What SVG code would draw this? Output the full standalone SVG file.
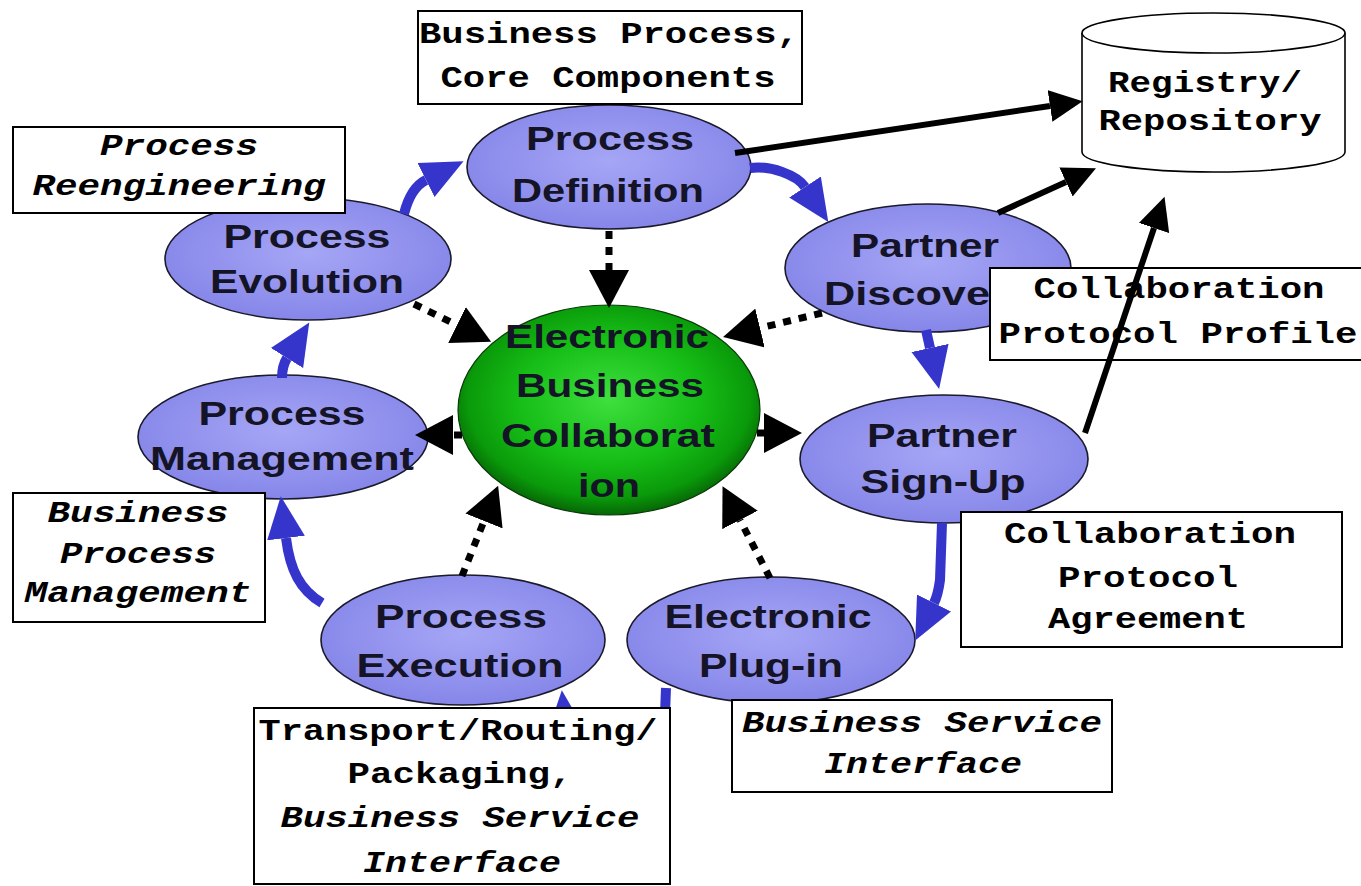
<svg xmlns="http://www.w3.org/2000/svg" width="1361" height="886" viewBox="0 0 1361 886">
<style>
.bg{fill:#ffffff}
.node{fill:url(#lav);stroke:#1a1a2a;stroke-width:1.6}
.core{fill:url(#grn);stroke:#0a3a0a;stroke-width:1.2}
.lbl{font-family:"Liberation Sans",Arial,sans-serif;font-weight:bold;font-size:34px;fill:#141426;text-anchor:middle}
.box{fill:#ffffff;stroke:#000000;stroke-width:2}
.mono{font-family:"Liberation Mono","Courier New",monospace;font-weight:bold;font-size:29px;fill:#000000;text-anchor:middle}
.it{font-style:italic}
.blue{fill:none;stroke:#3535cc;stroke-width:10}
.dot{fill:none;stroke:#000000;stroke-width:7;stroke-dasharray:8 8}
.solid{fill:none;stroke:#000000;stroke-width:6}
</style>
<defs>
<radialGradient id="lav" cx="0.5" cy="0.45" r="0.6">
<stop offset="0" stop-color="#a6a6f6"/>
<stop offset="1" stop-color="#8383e8"/>
</radialGradient>
<radialGradient id="grn" cx="0.5" cy="0.45" r="0.55">
<stop offset="0" stop-color="#3ee03e"/>
<stop offset="0.55" stop-color="#16bd16"/>
<stop offset="0.85" stop-color="#0a9a0a"/>
<stop offset="1" stop-color="#066606"/>
</radialGradient>
<marker id="ab" markerUnits="userSpaceOnUse" markerWidth="44" markerHeight="40" refX="0" refY="20" orient="auto" viewBox="0 0 44 40">
<path d="M0,1 L42,20 L0,39 z" fill="#3535cc"/>
</marker>
<marker id="ad" markerUnits="userSpaceOnUse" markerWidth="40" markerHeight="40" refX="0" refY="20" orient="auto" viewBox="0 0 40 40">
<path d="M0,0 L38,20 L0,40 z" fill="#000000"/>
</marker>
<marker id="as" markerUnits="userSpaceOnUse" markerWidth="34" markerHeight="34" refX="0" refY="16" orient="auto" viewBox="0 0 34 32">
<path d="M0,0 L33,16 L0,32 z" fill="#000000"/>
</marker>
</defs>
<rect class="bg" x="0" y="0" width="1361" height="886"/>

<g id="process-definition">
<ellipse class="node" cx="609" cy="167" rx="142" ry="62"/>
<text class="lbl" x="610" y="150" textLength="168" lengthAdjust="spacingAndGlyphs">Process</text>
<text class="lbl" x="608" y="202" textLength="192" lengthAdjust="spacingAndGlyphs">Definition</text>
</g>
<g id="process-evolution">
<ellipse class="node" cx="308" cy="259" rx="143" ry="61"/>
<text class="lbl" x="307" y="248" textLength="167" lengthAdjust="spacingAndGlyphs">Process</text>
<text class="lbl" x="307" y="293" textLength="194" lengthAdjust="spacingAndGlyphs">Evolution</text>
</g>
<g id="process-management">
<ellipse class="node" cx="283" cy="437" rx="145" ry="62"/>
<text class="lbl" x="282" y="425" textLength="167" lengthAdjust="spacingAndGlyphs">Process</text>
<text class="lbl" x="282" y="470" textLength="264" lengthAdjust="spacingAndGlyphs">Management</text>
</g>
<g id="partner-discovery">
<ellipse class="node" cx="928" cy="268" rx="143" ry="64"/>
<text class="lbl" x="925" y="257" textLength="148" lengthAdjust="spacingAndGlyphs">Partner</text>
<text class="lbl" x="907" y="305" textLength="166" lengthAdjust="spacingAndGlyphs">Discove</text>
</g>
<g id="partner-signup">
<ellipse class="node" cx="944" cy="459" rx="144" ry="64"/>
<text class="lbl" x="942" y="447" textLength="150" lengthAdjust="spacingAndGlyphs">Partner</text>
<text class="lbl" x="943" y="493" textLength="165" lengthAdjust="spacingAndGlyphs">Sign-Up</text>
</g>
<g id="process-execution">
<ellipse class="node" cx="463" cy="640" rx="142" ry="65"/>
<text class="lbl" x="461" y="628" textLength="172" lengthAdjust="spacingAndGlyphs">Process</text>
<text class="lbl" x="460" y="677" textLength="207" lengthAdjust="spacingAndGlyphs">Execution</text>
</g>
<g id="electronic-plugin">
<ellipse class="node" cx="771" cy="640" rx="144" ry="63"/>
<text class="lbl" x="768" y="628" textLength="207" lengthAdjust="spacingAndGlyphs">Electronic</text>
<text class="lbl" x="771" y="677" textLength="144" lengthAdjust="spacingAndGlyphs">Plug-in</text>
</g>
<g id="ebc">
<ellipse class="core" cx="609" cy="410" rx="151" ry="105"/>
<text class="lbl" x="607" y="348" textLength="204" lengthAdjust="spacingAndGlyphs">Electronic</text>
<text class="lbl" x="610" y="397" textLength="188" lengthAdjust="spacingAndGlyphs">Business</text>
<text class="lbl" x="608" y="447" textLength="214" lengthAdjust="spacingAndGlyphs">Collaborat</text>
<text class="lbl" x="609" y="497" textLength="62" lengthAdjust="spacingAndGlyphs">ion</text>
</g>

<g id="cycle-connectors">
<path class="blue" d="M404,214 C408,198 414,186 426,180" marker-end="url(#ab)"/>
<path class="blue" d="M750,168 C770,165 797,175 805,187" marker-end="url(#ab)"/>
<path class="blue" d="M926,330 L930,348" marker-end="url(#ab)"/>
<path class="blue" d="M942,523 L940,580 Q938,595 934,603" marker-end="url(#ab)"/>
<path class="blue" d="M666,688 L664,740 Q662,752 620,752 Q568,752 566,732" marker-end="url(#ab)"/>
<path class="blue" d="M322,603 C300,590 290,570 286,538" marker-end="url(#ab)"/>
<path class="blue" d="M282,378 Q282,366 287,358" marker-end="url(#ab)"/>
</g>

<g id="core-connectors">
<path class="dot" d="M609,231 L609,270" marker-end="url(#ad)"/>
<path class="dot" d="M414,304 L457,325" marker-end="url(#ad)"/>
<path class="dot" d="M822,313 L760,328" marker-end="url(#ad)"/>
<path class="dot" d="M757,433 L764,433" marker-end="url(#ad)"/>
<path class="dot" d="M462,435 L453,435" marker-end="url(#ad)"/>
<path class="dot" d="M462,576 L484,521" marker-end="url(#ad)"/>
<path class="dot" d="M770,578 L740,520" marker-end="url(#ad)"/>
</g>

<g id="note-bp-cc">
<rect class="box" x="418" y="11" width="384" height="93"/>
<text class="mono" x="609" y="43" textLength="380" lengthAdjust="spacingAndGlyphs">Business Process,</text>
<text class="mono" x="608" y="87" textLength="335" lengthAdjust="spacingAndGlyphs">Core Components</text>
</g>
<g id="note-reengineering">
<rect class="box" x="13" y="127" width="332" height="86"/>
<text class="mono it" x="179" y="155" textLength="158" lengthAdjust="spacingAndGlyphs">Process</text>
<text class="mono it" x="179" y="195" textLength="293" lengthAdjust="spacingAndGlyphs">Reengineering</text>
</g>
<g id="note-bpm">
<rect class="box" x="13" y="493" width="252" height="129"/>
<text class="mono it" x="138" y="522" textLength="181" lengthAdjust="spacingAndGlyphs">Business</text>
<text class="mono it" x="138" y="563" textLength="156" lengthAdjust="spacingAndGlyphs">Process</text>
<text class="mono it" x="138" y="602" textLength="227" lengthAdjust="spacingAndGlyphs">Management</text>
</g>
<g id="note-cpp">
<rect class="box" x="990" y="268" width="380" height="92"/>
<text class="mono" x="1179" y="298" textLength="291" lengthAdjust="spacingAndGlyphs">Collaboration</text>
<text class="mono" x="1178" y="343" textLength="359" lengthAdjust="spacingAndGlyphs">Protocol Profile</text>
</g>
<g id="note-cpa">
<rect class="box" x="961" y="512" width="381" height="135"/>
<text class="mono" x="1150" y="543" textLength="292" lengthAdjust="spacingAndGlyphs">Collaboration</text>
<text class="mono" x="1148" y="587" textLength="180" lengthAdjust="spacingAndGlyphs">Protocol</text>
<text class="mono" x="1148" y="628" textLength="200" lengthAdjust="spacingAndGlyphs">Agreement</text>
</g>
<g id="note-transport">
<rect class="box" x="254" y="708" width="416" height="176"/>
<text class="mono" x="458" y="740" textLength="399" lengthAdjust="spacingAndGlyphs">Transport/Routing/</text>
<text class="mono" x="460" y="783" textLength="225" lengthAdjust="spacingAndGlyphs">Packaging,</text>
<text class="mono it" x="460" y="827" textLength="359" lengthAdjust="spacingAndGlyphs">Business Service</text>
<text class="mono it" x="462" y="872" textLength="198" lengthAdjust="spacingAndGlyphs">Interface</text>
</g>
<g id="note-bsi">
<rect class="box" x="732" y="700" width="380" height="92"/>
<text class="mono it" x="922" y="732" textLength="360" lengthAdjust="spacingAndGlyphs">Business Service</text>
<text class="mono it" x="923" y="773" textLength="198" lengthAdjust="spacingAndGlyphs">Interface</text>
</g>

<g id="registry">
<path d="M1082,33 L1082,152 A131.5,20 0 0 0 1345,152 L1345,33" fill="#ffffff" stroke="#000000" stroke-width="1.6"/>
<ellipse cx="1213.5" cy="33" rx="131.5" ry="20" fill="#ffffff" stroke="#000000" stroke-width="1.6"/>
<text class="mono" x="1205" y="92" textLength="194" lengthAdjust="spacingAndGlyphs">Registry/</text>
<text class="mono" x="1210" y="130" textLength="223" lengthAdjust="spacingAndGlyphs">Repository</text>
</g>

<g id="registry-connectors">
<path class="solid" d="M735,153 L1050,106" marker-end="url(#as)"/>
<path class="solid" d="M998,213 L1066,182" marker-end="url(#as)"/>
<path class="solid" d="M1085,433 L1154,228" marker-end="url(#as)"/>
</g>
</svg>
